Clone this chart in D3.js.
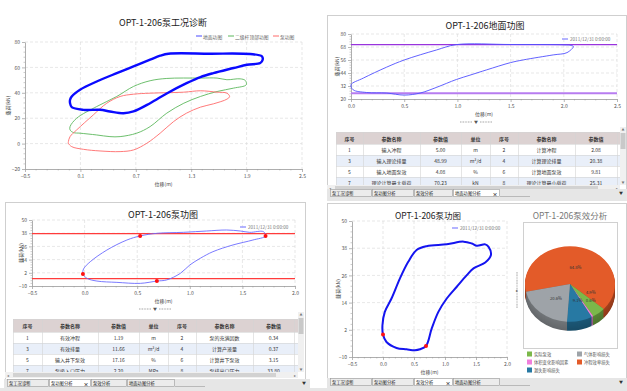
<!DOCTYPE html>
<html><head><meta charset="utf-8">
<script src="https://cdn.jsdelivr.net/npm/d3@7"></script>
<style>
body{margin:0;background:#fff;}
svg{display:block;font-family:"Noto Sans CJK SC","Noto Sans",sans-serif;}
</style></head><body>
<svg id="c" width="627" height="391"></svg>
<script>
// ---------- DATA ----------
// Top-left: 泵工况诊断 (three loops)
const groundX = [-0.012,0.006,0.096,0.277,0.494,0.675,0.855,0.964,1.054,1.5,1.94,2.066,2.074,2.048,1.904,1.76,1.54,1.4,1.25,1.04,0.855,0.675,0.566,0.42,0.313,0.133,0.006,-0.012];
const groundY = [34.5,37.1,42.4,48.9,55.5,60.8,66.1,69.2,70.8,70.8,70.5,68.7,66,63.4,62.1,59.5,55.5,52.4,47.6,39.7,31.8,25.3,23.9,25.3,26.6,26.6,28.7,31.8];
const rodX = [-0.012,0.06,0.277,0.494,0.675,0.855,1.036,1.4,1.58,1.687,1.83,1.886,1.896,1.76,1.58,1.4,1.22,1.036,0.855,0.71,0.53,0.42,0.277,0.096,0.024,-0.012];
const rodY = [13.4,20,29.2,37.1,45,49.5,51.3,51.6,51.6,50.3,51,49.7,46.3,43.7,41,37.1,31.8,24,13.4,8.2,5.5,5.5,6.8,8.2,8.7,10.8];
const pumpX = [-0.012,0.06,0.24,0.386,0.53,0.675,0.855,1.22,1.4,1.58,1.687,1.716,1.687,1.54,1.4,1.25,1.11,0.964,0.82,0.675,0.53,0.313,0.133,0.006,-0.03,-0.03];
const pumpY = [5.5,10.8,22.6,31.8,37.1,38.9,39.7,40.5,41.6,40.5,39.7,37.1,35,31.3,28.7,24,17.4,8.2,0.3,-5,-6.3,-5.8,-4.5,-2.4,0.3,1.6];
const diagLegend = ["地面功图","二级杆顶部功图","泵功图"];

// Top-right: 地面功图
const surfX = [0,0.116,0.335,0.5,0.805,0.99,1.5,2.0,2.07,2.09,2.03,1.9,1.62,1.5,1.275,1.118,0.99,0.80,0.65,0.5,0.335,0.147,0.02];
const surfY = [33.1,39.3,49.4,56,65.3,70.2,70.3,70.0,69.5,68.4,62.8,60.7,56.1,53.6,46.9,42,38,30.6,25.5,23.6,25.5,26,28.5];
const surfLimits = [70.23, 25.31];

// Bottom-left: 泵功图 (分析)
const cardAX = [-0.016,-0.01,0.054,0.212,0.402,0.528,0.687,0.94,1.16,1.35,1.48,1.57,1.7,1.72,1.6,1.41,1.22,1.1,1.0,0.91,0.78,0.687,0.53,0.307,0.117,0.022];
const cardAY = [1.0,5.5,12.1,22.7,31.8,35.5,37.9,38.8,40,40.9,40,38.8,39.4,35.5,31.8,27.3,21.2,15.2,9.1,1.5,-4.5,-5.5,-7.6,-6.7,-5.5,-3];
const cardADotX = [-0.016,0.528,0.687,1.72];
const cardADotY = [1.0,35.5,-5.5,35.5];
const cardALimits = [37.6,-3.3];

// Bottom-right: 泵功图 (泵效)
const cardBX = [0.0,-0.009,0.029,0.137,0.272,0.407,0.542,0.704,1.028,1.298,1.433,1.514,1.649,1.703,1.741,1.649,1.46,1.352,1.19,1.028,0.893,0.785,0.694,0.596,0.515,0.38,0.218,0.056];
const cardBY = [-0.1,4,9.9,15.8,24.6,32,37.2,38.9,39.7,40.9,40.1,39.1,39.7,38.6,35,31.7,29.1,26.1,21,15.8,9.9,2.5,-5.1,-6.6,-7,-6.6,-6,-3.4];
const cardBDotX = [0.0,0.694];
const cardBDotY = [-0.1,-5.1];

// Pie: 泵效分析
const pieNames = ["冲程效率损失","实际泵效","体积变化影响因素","漏失影响损失","气体影响损失"];
const pieValues = [64.8,4.9,0.6,9.1,20.6];
const pieColors = ["#e35b29","#7bb84a","#f07fdc","#2779a3","#9ea3a8"];
const pieLegendOrder = ["实际泵效","气体影响损失","体积变化影响因素","冲程效率损失","漏失影响损失"];

// Tables
const tableHead = ["序号","参数名称","参数值","单位","序号","参数名称","参数值"];
const trNo1 = [1,3,5,7], trName1 = ["输入冲程","输入理论排量","输入地面泵效","理论计算最大载荷"];
const trVal1 = ["5.00","48.99","4.08","70.23"], trUnit1 = ["m","m³/d","%","kN"];
const trNo2 = [2,4,6,8], trName2 = ["计算冲程","计算理论排量","计算地面泵效","理论计算最小载荷"];
const trVal2 = ["2.08","20.38","9.81","25.31"];
const blNo1 = [1,3,5,7], blName1 = ["有效冲程","有效排量","输入井下泵效","泵吸入口压力"];
const blVal1 = ["1.19","11.66","17.16","2.20"], blUnit1 = ["m","m³/d","%","MPa"];
const blNo2 = [2,4,6,8], blName2 = ["泵的充满因数","计算产液量","计算井下泵效","泵排出口压力"];
const blVal2 = ["0.34","0.37","3.15","33.80"];

const tabNames = ["泵工况诊断","泵功图分析","泵效分析","地面功图分析"];
const legendDate = "2011/12/31 0:00:00";
const xLabel = "位移(m)", yLabel = "载荷(kN)";

// ---------- DRAW ----------
const FONT = '"Noto Sans CJK SC","Noto Sans",sans-serif';
const svg = d3.select('#c');
let clipId = 0;

function frame(x,y,w,h){
  svg.append('rect').attr('x',x+0.5).attr('y',y+0.5).attr('width',w).attr('height',h)
    .attr('fill','#fff').attr('stroke','#cfcfcf');
}
function txt(x,y,s,size,opt={}){
  return svg.append('text').attr('x',x).attr('y',y).text(s).attr('font-size',size)
    .attr('font-family',FONT).attr('fill',opt.fill||'#333').attr('text-anchor',opt.anchor||'middle')
    .attr('font-weight',opt.weight||'normal').attr('dominant-baseline','central');
}

function plot(o){
  const x = d3.scaleLinear().domain(o.xd).range([o.l,o.r]);
  const y = d3.scaleLinear().domain(o.yd).range([o.b,o.t]);
  const g = svg.append('g');
  g.append('g').selectAll('line').data(o.xt.slice(1)).join('line')
    .attr('x1',d=>x(d)).attr('x2',d=>x(d)).attr('y1',o.t).attr('y2',o.b)
    .attr('stroke','#d6d6d6').attr('stroke-width',0.6).attr('stroke-dasharray','3,2');
  g.append('g').selectAll('line').data(o.yt.slice(1)).join('line')
    .attr('y1',d=>y(d)).attr('y2',d=>y(d)).attr('x1',o.l).attr('x2',o.r)
    .attr('stroke','#d6d6d6').attr('stroke-width',0.6).attr('stroke-dasharray','3,2');
  const xm=[],ym=[];
  for(let i=0;i<o.xt.length-1;i++){const s=(o.xt[i+1]-o.xt[i])/5;for(let k=1;k<5;k++)xm.push(o.xt[i]+k*s);}
  for(let i=0;i<o.yt.length-1;i++){const s=(o.yt[i+1]-o.yt[i])/5;for(let k=1;k<5;k++)ym.push(o.yt[i]+k*s);}
  g.append('g').selectAll('line').data(xm).join('line').attr('x1',d=>x(d)).attr('x2',d=>x(d))
    .attr('y1',o.b).attr('y2',o.b+1.5).attr('stroke','#aaa').attr('stroke-width',0.6);
  g.append('g').selectAll('line').data(ym).join('line').attr('y1',d=>y(d)).attr('y2',d=>y(d))
    .attr('x1',o.l).attr('x2',o.l-1.5).attr('stroke','#aaa').attr('stroke-width',0.6);
  const xa = g.append('g').attr('transform',`translate(0,${o.b})`)
    .call(d3.axisBottom(x).tickValues(o.xt).tickFormat(o.xf).tickSize(3).tickSizeOuter(0).tickPadding(2));
  const ya = g.append('g').attr('transform',`translate(${o.l},0)`)
    .call(d3.axisLeft(y).tickValues(o.yt).tickFormat(d3.format('d')).tickSize(3).tickSizeOuter(0).tickPadding(2));
  [xa,ya].forEach(a=>{
    a.select('.domain').attr('stroke','#999').attr('stroke-width',0.8);
    a.selectAll('.tick line').attr('stroke','#999').attr('stroke-width',0.7);
    a.selectAll('text').attr('font-size',5).attr('fill','#555').attr('font-family',FONT);
  });
  txt((o.l+o.r)/2, o.xly, xLabel, 5, {fill:'#444'});
  txt(0,0,yLabel,5,{fill:'#444'}).attr('transform',`translate(${o.ylx},${(o.t+o.b)/2}) rotate(-90)`).attr('x',0).attr('y',0);
  if(o.title) txt(o.tx, o.ty, o.title, o.ts||9, {fill:o.tc||'#222'});
  return {x,y,g};
}
function loop(p,X,Y,color,w){
  const line = d3.line().x(i=>p.x(X[i])).y(i=>p.y(Y[i])).curve(d3.curveCatmullRomClosed.alpha(0.5));
  p.g.append('path').attr('d',line(d3.range(X.length))).attr('fill','none')
    .attr('stroke',color).attr('stroke-width',w).attr('stroke-linejoin','round');
}
function hline(p,v,color,w){
  p.g.append('line').attr('x1',p.x.range()[0]).attr('x2',p.x.range()[1]).attr('y1',p.y(v)).attr('y2',p.y(v))
    .attr('stroke',color).attr('stroke-width',w);
}
function dots(p,X,Y){
  p.g.append('g').selectAll('circle').data(X).join('circle').attr('cx',d=>p.x(d)).attr('cy',(d,i)=>p.y(Y[i]))
    .attr('r',2).attr('fill','#ff1010');
}
function dateLegend(x,y,color){
  svg.append('line').attr('x1',x).attr('x2',x+6).attr('y1',y).attr('y2',y).attr('stroke',color).attr('stroke-width',1.5);
  txt(x+8,y,legendDate,4.6,{anchor:'start',fill:'#777'});
}
function splitterH(cx,cy){
  [[-16,-4],[4,16]].forEach(([a,b])=>svg.append('line').attr('x1',cx+a).attr('x2',cx+b).attr('y1',cy).attr('y2',cy)
    .attr('stroke','#c8c8c8').attr('stroke-width',2).attr('stroke-dasharray','0.8,0.8'));
  txt(cx,cy,'▼',4,{fill:'#555'});
}
function table(cols,y0,hh,rh,rows,clipR,clipB,vs){
  const id='cl'+(clipId++);
  svg.append('clipPath').attr('id',id).append('rect').attr('x',cols[0]).attr('y',y0).attr('width',clipR-cols[0]).attr('height',clipB-y0);
  const g = svg.append('g').attr('clip-path',`url(#${id})`);
  const W = cols[cols.length-1]-cols[0];
  g.append('rect').attr('x',cols[0]).attr('y',y0).attr('width',W).attr('height',hh).attr('fill','#dcd2d2');
  g.selectAll('.rb').data(rows).join('rect').attr('x',cols[0]).attr('y',(d,i)=>y0+hh+i*rh).attr('width',W).attr('height',rh)
    .attr('fill',(d,i)=>i%2?'#e9eff9':'#fff');
  const nR = rows.length;
  g.selectAll('.vl').data(cols).join('line').attr('x1',d=>d+0.5).attr('x2',d=>d+0.5).attr('y1',y0).attr('y2',y0+hh+nR*rh)
    .attr('stroke','#d4d4d4').attr('stroke-width',0.6);
  g.selectAll('.hl').data(d3.range(nR+2)).join('line').attr('x1',cols[0]).attr('x2',cols[cols.length-1])
    .attr('y1',i=>y0+(i===0?0:hh+(i-1)*rh)+0.5).attr('y2',i=>y0+(i===0?0:hh+(i-1)*rh)+0.5).attr('stroke','#d4d4d4').attr('stroke-width',0.6);
  tableHead.forEach((h,j)=>{
    g.append('text').attr('x',(cols[j]+cols[j+1])/2).attr('y',y0+hh/2).text(h).attr('font-size',5).attr('font-weight','bold')
      .attr('text-anchor','middle').attr('dominant-baseline','central').attr('fill','#333').attr('font-family',FONT);
  });
  rows.forEach((r,i)=>r.forEach((c,j)=>{
    g.append('text').attr('x',(cols[j]+cols[j+1])/2).attr('y',y0+hh+i*rh+rh/2).text(c).attr('font-size',5)
      .attr('text-anchor','middle').attr('dominant-baseline','central').attr('fill','#333').attr('font-family',FONT);
  }));
  svg.append('rect').attr('x',vs.x).attr('y',vs.y0).attr('width',6).attr('height',vs.y1-vs.y0).attr('fill','#f0f0f0');
  svg.append('rect').attr('x',vs.x+0.5).attr('y',vs.y0+6).attr('width',5).attr('height',16).attr('fill','#c9c9c9');
  txt(vs.x+3,vs.y0+2.5,'▲',3,{fill:'#777'});
  txt(vs.x+3,vs.y1-2.5,'▼',3,{fill:'#777'});
  svg.append('rect').attr('x',vs.hx0).attr('y',clipB).attr('width',vs.x-vs.hx0).attr('height',6).attr('fill','#f0f0f0');
  svg.append('rect').attr('x',vs.hx0+8).attr('y',clipB+1).attr('width',vs.x-vs.hx0-30).attr('height',4).attr('fill','#d2d2d2');
  txt(vs.hx0+2.5,clipB+3,'◂',4,{fill:'#777'});
  txt(vs.x-3,clipB+3,'▸',4,{fill:'#777'});
}
function tabBar(x0,x1,y,widths,active){
  svg.append('rect').attr('x',x0).attr('y',y).attr('width',x1-x0).attr('height',12).attr('fill','#e6e6e6');
  let cx=x0+3;
  widths.forEach((w,i)=>{
    svg.append('rect').attr('x',cx+0.5).attr('y',y+0.5).attr('width',w).attr('height',7)
      .attr('fill',i===active?'#fff':'#ececec').attr('stroke','#9a9a9a').attr('stroke-width',0.6);
    txt(cx+2,y+4,tabNames[i],4.3,{anchor:'start',fill:'#222'});
    if(i===active) txt(cx+w-4,y+4,'×',5,{fill:'#222',weight:'bold'});
    cx+=w+1;
  });
  svg.append('line').attr('x1',cx).attr('x2',cx+30).attr('y1',y+7.5).attr('y2',y+7.5).attr('stroke','#9a9a9a').attr('stroke-width',0.6);
  txt(x1-6,y+4,'▼',4,{fill:'#333'});
}

// ===== Top-left panel =====
const p1 = plot({xd:[-0.5,2.5],yd:[-20,80],l:25,r:302,t:42,b:169,
  xt:[-0.5,0.1,0.7,1.3,1.9,2.5],yt:[-20,0,20,40,60,80],xf:d3.format('.1f'),
  xly:183,ylx:7,title:"OPT-1-206泵工况诊断",tx:163,ty:22});
loop(p1,rodX,rodY,'#5cb85c',0.9);
loop(p1,pumpX,pumpY,'#ff6b6b',0.9);
loop(p1,groundX,groundY,'#0a0aff',2.4);
const legColors = ['#4a4aff','#5cb85c','#ff6b6b'];
const legPos = [[196,203],[228,235],[273,280]];
diagLegend.forEach((s,i)=>{
  svg.append('line').attr('x1',legPos[i][0]).attr('x2',legPos[i][0]+6).attr('y1',36).attr('y2',36).attr('stroke',legColors[i]).attr('stroke-width',1);
  txt(legPos[i][1],36,s,4.8,{anchor:'start',fill:'#666'});
});

// ===== Top-right panel =====
frame(327,15,299,175);
const p2 = plot({xd:[0,2.5],yd:[20,80],l:351,r:617,t:34,b:99,
  xt:[0,0.5,1,1.5,2,2.5],yt:[20,32,44,56,68,80],xf:d3.format('.1f'),
  xly:113,ylx:336,title:"OPT-1-206地面功图",tx:485,ty:25});
hline(p2,surfLimits[0],'#9933dd',1.1);
hline(p2,surfLimits[1],'#b77cf0',2.2);
loop(p2,surfX,surfY,'#5050ff',0.9);
dateLegend(562,39,'#9b9bff');
splitterH(476,122);
table([336,363,420,461,490,518,575,617,660],132,12,11,
  d3.range(4).map(i=>[trNo1[i],trName1[i],trVal1[i],trUnit1[i],trNo2[i],trName2[i],trVal2[i]]),
  620,185,{x:620,y0:127,y1:185,hx0:327});
tabBar(327,627,189,[41,41,38,46],3);

// ===== Bottom-left panel =====
frame(5,202,300,177);
const p3 = plot({xd:[-0.5,2.0],yd:[-10,50],l:32,r:295,t:220,b:286,
  xt:[-0.5,0,0.5,1,1.5,2],yt:[-10,2,14,26,38,50],xf:d3.format('.1f'),
  xly:300,ylx:20,title:"OPT-1-206泵功图",tx:163,ty:214});
hline(p3,cardALimits[0],'#ff3b3b',1.3);
hline(p3,cardALimits[1],'#ff3b3b',1.3);
loop(p3,cardAX,cardAY,'#6b6bff',0.9);
dots(p3,cardADotX,cardADotY);
dateLegend(240,227,'#9b9bff');
splitterH(155,309);
table([13,42,98,139,168,196,253,294,340],319,13,11,
  d3.range(4).map(i=>[blNo1[i],blName1[i],blVal1[i],blUnit1[i],blNo2[i],blName2[i],blVal2[i]]),
  298,372,{x:298,y0:312,y1:372,hx0:5});
tabBar(4,310,379,[41,41,35,47],1);

// ===== Bottom-right panel =====
frame(327,203,299,175);
const p4 = plot({xd:[-0.5,2.0],yd:[-10,50],l:352,r:507,t:221,b:357,
  xt:[-0.5,0,0.5,1,1.5,2],yt:[-10,2,14,26,38,50],xf:d3.format('.1f'),
  xly:371,ylx:337,title:"OPT-1-206泵功图",tx:428,ty:215,ts:8.5});
loop(p4,cardBX,cardBY,'#1414f0',2);
dots(p4,cardBDotX,cardBDotY);
dateLegend(452,228,'#9b9bff');
svg.append('line').attr('x1',517).attr('x2',517).attr('y1',272).attr('y2',308).attr('stroke','#c8c8c8').attr('stroke-width',2).attr('stroke-dasharray','0.8,0.8');
txt(517,290,'▸',4,{fill:'#555'});

// pie
txt(570,215,"OPT-1-206泵效分析",8.5,{fill:'#777'});
svg.append('rect').attr('x',523.5).attr('y',222.5).attr('width',94).attr('height',126).attr('fill','#fff').attr('stroke','#d0d0d0');
const pcx=570, pcy=284, pr=45, psy=0.84, depth=9;
const sa = 258*Math.PI/180;
const arcs = d3.pie().sort(null).startAngle(sa).endAngle(sa+2*Math.PI)(pieValues);
const arcG = d3.arc().innerRadius(0).outerRadius(pr);
for(let k=depth;k>=1;k--){
  svg.append('g').attr('transform',`translate(${pcx},${pcy+k}) scale(1,${psy})`)
    .selectAll('path').data(arcs).join('path').attr('d',arcG)
    .attr('fill',(d,i)=>d3.color(pieColors[i]).darker(0.9+0.04*k));
}
const topG = svg.append('g').attr('transform',`translate(${pcx},${pcy}) scale(1,${psy})`);
topG.selectAll('path').data(arcs).join('path').attr('d',arcG).attr('fill',(d,i)=>pieColors[i]);
const lblArc = d3.arc().innerRadius(0).outerRadius(pr*0.95);
const lblOff = [[0,0],[7,-6],[10,0],[3,-2],[0,0]];
arcs.forEach((a,i)=>{
  const c = lblArc.centroid(a);
  txt(pcx+c[0]+lblOff[i][0], pcy+c[1]*psy+lblOff[i][1], pieValues[i].toFixed(1)+'%', 4.2, {fill:'#333'});
});
const legXY = [[527,354],[577,354],[527,362],[577,362],[527,370]];
pieLegendOrder.forEach((n,i)=>{
  const ci = pieNames.indexOf(n);
  svg.append('rect').attr('x',legXY[i][0]).attr('y',legXY[i][1]-2.5).attr('width',5).attr('height',5).attr('fill',pieColors[ci]);
  txt(legXY[i][0]+7,legXY[i][1],n,4.3,{anchor:'start',fill:'#555'});
});
tabBar(327,627,378,[41,41,38,46],2);
svg.append('rect').attr('x',0).attr('y',388).attr('width',627).attr('height',3).attr('fill','#e6e6e6');
</script>
</body></html>
